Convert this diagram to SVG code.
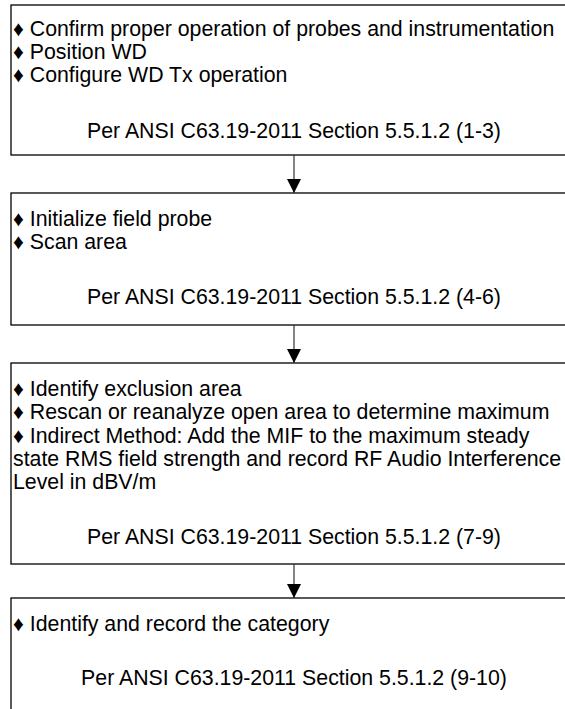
<svg xmlns="http://www.w3.org/2000/svg" width="565" height="709" viewBox="0 0 565 709">
<style>
.box{fill:#fff;stroke:#000;stroke-width:1.3}
.t{font-family:"Liberation Sans",Arial,sans-serif;font-size:21.3px;fill:#000}
.c{text-anchor:middle}
.conn{stroke:#333;stroke-width:1.2;fill:none}
</style>
<defs>
<marker id="ah" markerUnits="userSpaceOnUse" markerWidth="14" markerHeight="15" refX="14" refY="7" orient="auto" viewBox="0 0 14 14">
<path d="M0,0 L14,7 L0,14 Z" fill="#000"/>
</marker>
</defs>
<rect width="565" height="709" fill="#fff"/>
<g id="node1">
<rect class="box" x="11" y="5" width="570" height="150"/>
<text class="t" x="13" y="36">♦ Confirm proper operation of probes and instrumentation</text>
<text class="t" x="13" y="59">♦ Position WD</text>
<text class="t" x="13" y="82">♦ Configure WD Tx operation</text>
<text class="t c" x="294" y="138">Per ANSI C63.19-2011 Section 5.5.1.2 (1-3)</text>
</g>
<g id="node2">
<rect class="box" x="11" y="193" width="570" height="132"/>
<text class="t" x="13" y="226">♦ Initialize field probe</text>
<text class="t" x="13" y="249">♦ Scan area</text>
<text class="t c" x="294" y="304">Per ANSI C63.19-2011 Section 5.5.1.2 (4-6)</text>
</g>
<g id="node3">
<rect class="box" x="11" y="363" width="570" height="201"/>
<text class="t" x="13" y="396">♦ Identify exclusion area</text>
<text class="t" x="13" y="419">♦ Rescan or reanalyze open area to determine maximum</text>
<text class="t" x="13" y="443">♦ Indirect Method: Add the MIF to the maximum steady</text>
<text class="t" x="13" y="466">state RMS field strength and record RF Audio Interference</text>
<text class="t" x="13" y="489">Level in dBV/m</text>
<text class="t c" x="294" y="544">Per ANSI C63.19-2011 Section 5.5.1.2 (7-9)</text>
</g>
<g id="node4">
<rect class="box" x="11" y="598" width="570" height="130"/>
<text class="t" x="13" y="631">♦ Identify and record the category</text>
<text class="t c" x="294" y="685">Per ANSI C63.19-2011 Section 5.5.1.2 (9-10)</text>
</g>
<g id="connectors">
<line class="conn" x1="294" y1="155" x2="294" y2="193" marker-end="url(#ah)"/>
<line class="conn" x1="294" y1="325" x2="294" y2="363" marker-end="url(#ah)"/>
<line class="conn" x1="294" y1="564" x2="294" y2="598" marker-end="url(#ah)"/>
</g>
</svg>
